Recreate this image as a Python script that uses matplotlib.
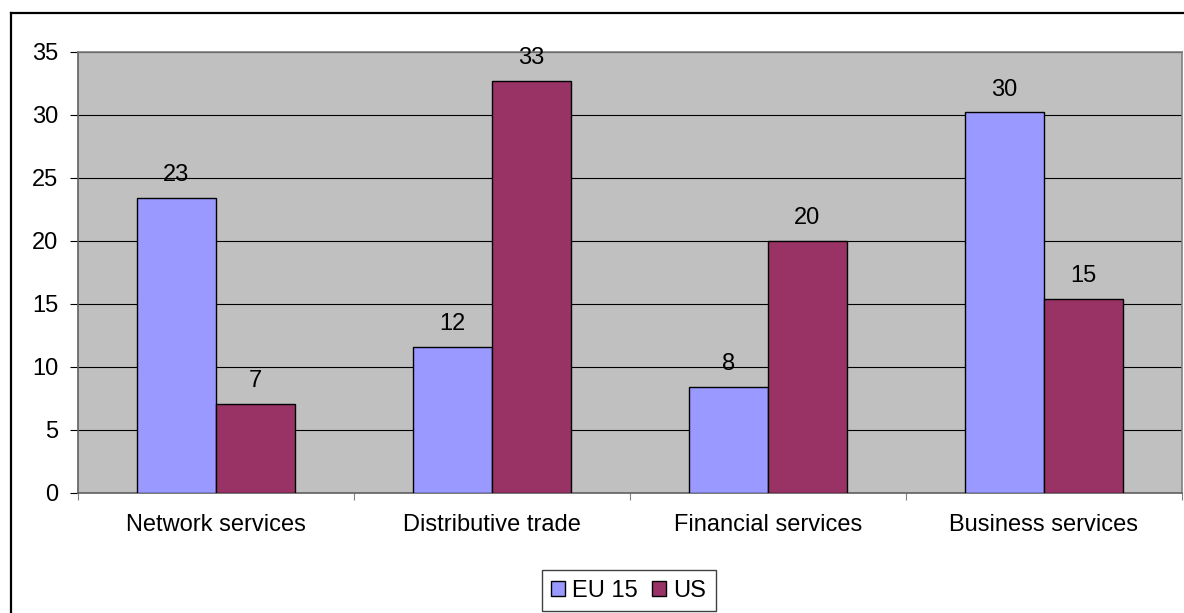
import matplotlib.pyplot as plt
import numpy as np
from matplotlib.lines import Line2D

plt.rcParams['font.family'] = ['Liberation Sans', 'DejaVu Sans']

categories = ['Network services', 'Distributive trade', 'Financial services', 'Business services']
eu15 = [23.4, 11.6, 8.4, 30.2]
us = [7.1, 32.7, 20.0, 15.4]
eu15_labels = ['23', '12', '8', '30']
us_labels = ['7', '33', '20', '15']

fig = plt.figure(figsize=(11.84, 6.13), dpi=100)
ax = fig.add_axes([0.0656, 0.1958, 0.9327, 0.7194])
ax.set_facecolor('#C0C0C0')

x = np.arange(len(categories))
w = 1 / 3.5
b1 = ax.bar(x - w / 2, eu15, w, color='#9999FF', edgecolor='black', linewidth=1, label='EU 15', zorder=3)
b2 = ax.bar(x + w / 2, us, w, color='#993366', edgecolor='black', linewidth=1, label='US', zorder=3)

for bars, labs in ((b1, eu15_labels), (b2, us_labels)):
    for r, t in zip(bars, labs):
        ax.annotate(t, (r.get_x() + r.get_width() / 2, r.get_height()),
                    xytext=(0, 12), textcoords='offset points',
                    ha='center', va='baseline', fontsize=17, zorder=4)

ax.set_xlim(-0.5, 3.5)
ax.set_ylim(0, 35)
ax.set_yticks(range(0, 36, 5))
ax.yaxis.grid(True, color='black', linewidth=0.8, zorder=1)
ax.set_axisbelow(True)

# category boundaries as ticks, labels at centers
ax.set_xticks(np.arange(-0.5, 4, 1))
ax.set_xticklabels([])
ax.set_xticks(x, minor=True)
ax.set_xticklabels(categories, minor=True, fontsize=17)
ax.tick_params(axis='x', which='minor', length=0, pad=15)
ax.tick_params(axis='x', which='major', length=5, color='#808080', direction='out')
ax.tick_params(axis='y', length=6, color='black', labelsize=17, pad=8)

for s in ['top', 'right']:
    ax.spines[s].set_color('#808080')
    ax.spines[s].set_linewidth(1.2)
for s in ['left', 'bottom']:
    ax.spines[s].set_color('#606060')
    ax.spines[s].set_linewidth(1.2)

fig.legend(loc='center', bbox_to_anchor=(0.531, 0.036), ncol=2, fontsize=17,
           frameon=True, fancybox=False, edgecolor='#404040', framealpha=1,
           handlelength=0.6, handleheight=0.6, handletextpad=0.3,
           columnspacing=0.6, borderpad=0.4, borderaxespad=0)

# outer chart frame
fig.add_artist(Line2D([0.0093, 0.0093], [0, 0.978], color='black', linewidth=1.6, transform=fig.transFigure))
fig.add_artist(Line2D([0.0093, 1.0], [0.978, 0.978], color='black', linewidth=1.6, transform=fig.transFigure))

plt.savefig('out.png', dpi=100)
